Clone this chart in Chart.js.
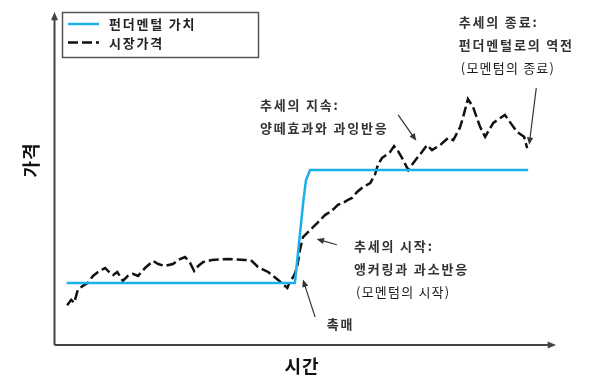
<!DOCTYPE html>
<html>
<head>
<meta charset="utf-8">
<script src="https://cdn.jsdelivr.net/npm/chart.js@4"></script>
<style>
  html, body { margin: 0; padding: 0; background: #fff; }
  #wrap { width: 601px; height: 378px; }
</style>
</head>
<body>
<div id="wrap"><canvas id="chart-momentum"></canvas></div>
<script>
// time axis (0-100) and price (0-100)
const seriesNames = ['펀더멘털 가치', '시장가격'];

const fundamentalTime = [2.1, 47.2, 48.9, 49.4, 50.2, 93.3];
const fundamentalValue = [19.0, 19.0, 44.0, 50.0, 53.0, 53.0];

const marketTime = [
  2.2, 3.0, 3.6, 4.3, 5.3, 6.3, 7.3, 8.3, 9.7, 10.7, 11.3, 12.1, 13.2, 14.2, 15.2, 16.2,
  17.6, 19.2, 20.2, 21.5, 23.1, 24.5, 25.5, 26.5, 27.3, 28.1, 29.1, 30.8, 34.0, 37.4, 38.7,
  39.9, 41.9, 43.9, 45.7, 46.2, 47.0, 47.6, 48.2, 48.8, 49.8, 50.6, 51.8, 53.2, 54.2, 55.1,
  55.7, 56.7, 57.7, 58.5, 59.5, 60.7, 62.1, 63.0, 63.6, 64.4, 66.0, 66.8, 67.6, 68.6, 69.6,
  70.6, 71.5, 72.3, 73.3, 74.3, 75.9, 77.5, 78.5, 79.8, 80.4, 81.4, 82.4, 83.8, 84.8, 86.4,
  88.7, 90.1, 91.1, 92.5, 93.1
];
const marketPrice = [
  12.3, 13.9, 13.0, 16.9, 18.1, 19.0, 21.1, 22.3, 23.5, 22.0, 21.4, 22.3, 19.6, 21.1, 21.7, 21.1,
  23.5, 25.6, 24.7, 24.1, 24.7, 26.2, 26.8, 25.0, 22.6, 24.1, 25.3, 25.9, 26.2, 25.9, 25.6,
  23.8, 22.3, 19.9, 17.5, 19.3, 21.1, 23.5, 28.9, 32.8, 34.3, 35.5, 37.3, 39.5, 40.4, 41.6,
  42.5, 43.1, 44.0, 44.6, 46.4, 47.9, 49.1, 51.5, 54.5, 56.6, 58.4, 60.2, 58.7, 56.0, 53.0,
  55.1, 56.9, 58.4, 60.5, 59.0, 60.5, 62.7, 62.0, 65.7, 68.7, 74.4, 72.0, 66.0, 63.0, 67.2,
  69.6, 66.6, 64.5, 63.0, 59.6
];

const axisTitles = { x: '시간', y: '가격' };

// annotation texts and arrows ([fromX, fromY, toX, toY]) in data units
const notes = [
  { lines: ['추세의 종료:', '펀더멘털로의 역전', '(모멘텀의 종료)'], at: [79.6, 97.6] },
  { lines: ['추세의 지속:', '양떼효과와 과잉반응'], at: [40.3, 72.6] },
  { lines: ['추세의 시작:', '앵커링과 과소반응', '(모멘텀의 시작)'], at: [58.9, 30.2] },
  { lines: ['촉매'], at: [53.5, 6.6] }
];
const arrows = [
  [94.9, 77.7, 93.5, 60.6],
  [67.6, 69.6, 71.2, 61.8],
  [55.5, 30.5, 51.5, 32.2],
  [51.2, 8.7, 48.8, 20.0]
];

const FONT = '"Noto Sans CJK KR", "Noto Sans", sans-serif';
const blue = '#1cb0ea';
const ink = '#111';

function arrowLine(ctx, x1, y1, x2, y2, color, width, head) {
  const a = Math.atan2(y2 - y1, x2 - x1);
  ctx.save();
  ctx.strokeStyle = color;
  ctx.fillStyle = color;
  ctx.lineWidth = width;
  ctx.beginPath();
  ctx.moveTo(x1, y1);
  ctx.lineTo(x2 - Math.cos(a) * head * 0.6, y2 - Math.sin(a) * head * 0.6);
  ctx.stroke();
  ctx.beginPath();
  ctx.moveTo(x2, y2);
  ctx.lineTo(x2 - head * Math.cos(a - 0.4), y2 - head * Math.sin(a - 0.4));
  ctx.lineTo(x2 - head * Math.cos(a + 0.4), y2 - head * Math.sin(a + 0.4));
  ctx.closePath();
  ctx.fill();
  ctx.restore();
}

const decorations = {
  id: 'decorations',
  afterDatasetsDraw(chart) {
    const { ctx, chartArea: area, scales } = chart;
    const xs = scales.x, ys = scales.y;

    // axes with arrow heads
    arrowLine(ctx, area.left - 0.5, area.bottom, area.left - 0.5, area.top, '#444', 2, 9);
    arrowLine(ctx, area.left - 0.5, area.bottom, area.right, area.bottom, '#444', 2, 9);

    // axis titles
    ctx.save();
    ctx.fillStyle = ink;
    ctx.font = 'bold 18px ' + FONT;
    ctx.letterSpacing = '1px';
    ctx.textAlign = 'center';
    ctx.textBaseline = 'middle';
    ctx.fillText(axisTitles.x, 302, area.bottom + 21);
    ctx.translate(31, 160);
    ctx.rotate(-Math.PI / 2);
    ctx.fillText(axisTitles.y, 0, 0);
    ctx.restore();

    // legend box
    ctx.save();
    ctx.strokeStyle = '#555';
    ctx.lineWidth = 1.5;
    ctx.strokeRect(62.5, 12.5, 196, 45);
    ctx.font = 'bold 13px ' + FONT;
    ctx.letterSpacing = '1.8px';
    ctx.textBaseline = 'middle';
    ctx.fillStyle = '#222';
    chart.data.datasets.forEach((ds, i) => {
      const y = 24 + i * 18.5;
      ctx.strokeStyle = ds.borderColor;
      ctx.lineWidth = ds.borderWidth;
      ctx.setLineDash(ds.borderDash || []);
      ctx.beginPath();
      ctx.moveTo(68, y);
      ctx.lineTo(99, y);
      ctx.stroke();
      ctx.setLineDash([]);
      ctx.fillText(ds.label, 109, y + 0.5);
    });
    ctx.restore();

    // arrows
    arrows.forEach(a => {
      arrowLine(ctx, xs.getPixelForValue(a[0]), ys.getPixelForValue(a[1]),
        xs.getPixelForValue(a[2]), ys.getPixelForValue(a[3]), '#333', 1.2, 8);
    });

    // annotation texts
    ctx.save();
    ctx.textBaseline = 'middle';
    notes.forEach(n => {
      const x = xs.getPixelForValue(n.at[0]);
      const y = ys.getPixelForValue(n.at[1]);
      n.lines.forEach((line, i) => {
        const paren = line.startsWith('(');
        ctx.font = (paren ? '' : 'bold ') + '13px ' + FONT;
        ctx.letterSpacing = paren ? '1.2px' : '1.8px';
        ctx.fillStyle = paren ? '#1a1a1a' : '#333';
        ctx.fillText(line, x + (paren ? 2 : 0), y + i * 23);
      });
    });
    ctx.restore();
  }
};

new Chart(document.getElementById('chart-momentum'), {
  type: 'line',
  data: {
    datasets: [
      {
        label: seriesNames[0],
        data: fundamentalTime.map((t, i) => ({ x: t, y: fundamentalValue[i] })),
        borderColor: blue,
        borderWidth: 2.5,
        pointRadius: 0,
        tension: 0
      },
      {
        label: seriesNames[1],
        data: marketTime.map((t, i) => ({ x: t, y: marketPrice[i] })),
        borderColor: ink,
        borderWidth: 2.5,
        borderDash: [10, 4],
        pointRadius: 0,
        tension: 0
      }
    ]
  },
  options: {
    responsive: true,
    maintainAspectRatio: false,
    animation: false,
    layout: { padding: { left: 55, right: 45, top: 12, bottom: 33 } },
    scales: {
      x: { type: 'linear', min: -0.2, max: 98.8, display: false },
      y: { type: 'linear', min: 0.3, max: 100.6, display: false }
    },
    plugins: { legend: { display: false }, tooltip: { enabled: false } }
  },
  plugins: [decorations]
});
</script>
</body>
</html>
